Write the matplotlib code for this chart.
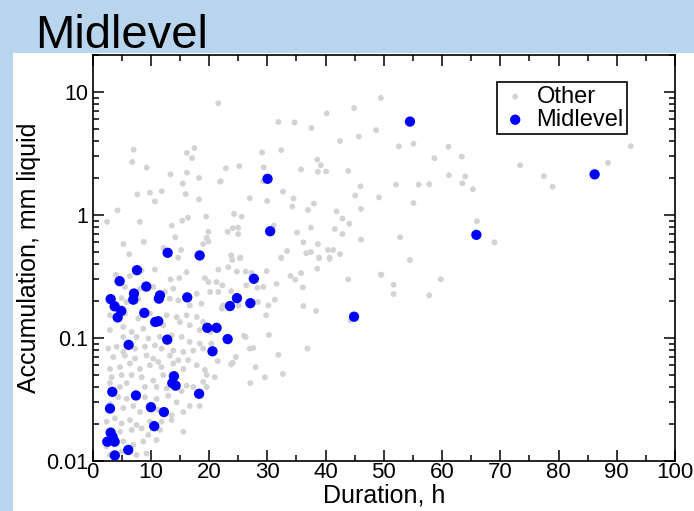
import matplotlib
matplotlib.use("Agg")
import matplotlib.pyplot as plt
from matplotlib.patches import Rectangle
from matplotlib.ticker import FixedLocator, FixedFormatter, LogLocator, NullFormatter, MultipleLocator

plt.rcParams['font.family'] = ['Liberation Sans', 'DejaVu Sans']

# ---------------- data ----------------
other_x = [
    # upper-left region
    21.6, 7.06, 17.5, 16.2, 17.1, 6.83, 9.29, 13.4, 16.2, 18.3, 21.9, 15.5, 7.7, 9.86, 11.9, 16.0,
    10.7, 18.3, 4.3, 2.5, 8.1, 15.4, 16.4, 19.5, 13.6, 19.9, 14.2, 19.6, 19.0, 5.3, 8.8, 19.9,
    12.2, 15.2, 6.3, 14.7,
    # dense lower-left region
    4.03, 6.43, 8.43, 10.72, 13.4, 14.9, 16.15, 19.3, 19.9, 21.3,
    5.57, 8.15, 10.43, 12.43, 13.86, 17.9, 20.2, 21.6,
    5.0, 5.86, 7.86, 13.29, 14.72, 16.7, 18.7,
    3.0, 5.57, 7.86, 9.86, 12.72, 14.44, 16.15, 17.9, 19.0,
    3.0, 5.29, 6.72, 8.72, 12.15, 15.0, 16.7, 18.4, 20.2,
    5.29, 7.57, 9.58, 11.58, 13.58, 15.3, 16.7, 18.4, 20.4,
    2.71, 4.14, 5.29, 7.29, 9.0, 10.72, 11.86, 13.86, 15.6, 17.3, 19.0,
    3.57, 5.57, 7.29, 9.29, 10.43, 11.29, 13.29, 14.72, 16.4, 17.9, 19.3,
    3.0, 4.72, 6.43, 8.15, 9.86, 11.86, 13.86, 15.6, 19.6, 21.0,
    3.29, 5.0, 6.72, 8.43, 10.43, 12.15, 16.15, 17.3, 19.0,
    3.0, 4.72, 5.86, 9.0, 11.0, 12.72, 15.3, 19.6,
    4.43, 5.86, 9.0, 11.0, 13.0, 14.44, 16.7, 18.4,
    3.0, 5.29, 7.0, 8.15, 11.29, 13.58, 15.6,
    2.43, 3.86, 5.0, 6.43, 7.57, 9.86, 11.86, 13.58,
    4.72, 6.72, 8.43, 9.58, 11.58, 15.6,
    2.43, 5.29, 7.0, 8.72, 11.0,
    5.0, 7.57, 9.29, 3.0,
    # upper-middle region
    49.5, 44.9, 40.2, 31.9, 34.7, 37.6, 45.7, 48.7, 42.5, 32.4, 29.1, 38.6, 39.2, 22.9, 25.2, 29.4,
    35.8, 38.7, 40.1, 43.9, 22.0, 29.3, 32.7, 27.0, 30.0, 34.5, 34.3, 38.0, 37.0, 45.1, 49.2, 46.1,
    41.9, 24.3, 25.6, 42.9, 44.1, 23.2, 24.1, 25.0, 25.0, 31.1, 35.1, 37.5, 41.6, 42.9, 46.1, 23.8,
    33.4, 36.2, 38.7, 36.7, 37.5, 40.4, 41.3, 42.5, 25.4, 32.4, 38.9, 40.7, 46.0,
    # lower-middle region
    21.6, 23.3, 24.0, 25.3, 32.4, 38.9, 40.7, 24.8, 26.3, 27.3, 29.9, 22.3, 23.8, 26.4, 28.3, 29.3,
    31.6, 34.0, 34.8, 35.8, 36.1, 38.6, 43.9, 49.5, 22.2, 22.4, 25.1, 28.4, 30.2, 31.3, 36.2, 38.4,
    29.8, 26.0, 26.3, 30.3, 27.6, 27.0, 31.9, 36.9, 44.3, 21.5, 24.6, 23.8, 24.1, 28.0, 32.7, 29.6,
    27.1,
    # right region
    52.6, 55.1, 61.1, 58.7, 63.4, 61.2, 64.0, 63.5, 65.3, 52.1, 56.0, 57.8, 55.1, 73.4, 77.5, 79.0,
    88.5, 92.4, 66.0, 69.0, 52.8, 54.5, 49.6, 51.7, 51.7, 57.8, 59.8,
]
other_y = [
    8.1, 3.4, 3.5, 3.2, 2.9, 2.7, 2.43, 2.14, 2.21, 2.0, 1.87, 1.80, 1.47, 1.52, 1.56, 1.48,
    1.29, 1.34, 1.09, 0.88, 0.88, 0.90, 0.95, 0.97, 0.82, 0.73, 0.66, 0.65, 0.58, 0.58, 0.605, 0.61,
    0.54, 0.52, 0.48, 0.45,
    0.327, 0.319, 0.354, 0.36, 0.299, 0.307, 0.343, 0.307, 0.285, 0.285,
    0.26, 0.252, 0.26, 0.237, 0.252, 0.229, 0.237, 0.237,
    0.211, 0.196, 0.209, 0.209, 0.202, 0.184, 0.19,
    0.153, 0.158, 0.144, 0.158, 0.153, 0.148, 0.153, 0.148, 0.135,
    0.116, 0.123, 0.112, 0.119, 0.127, 0.135, 0.127, 0.116, 0.112,
    0.102, 0.102, 0.099, 0.102, 0.105, 0.102, 0.093, 0.090, 0.090,
    0.082, 0.085, 0.077, 0.082, 0.085, 0.087, 0.082, 0.079, 0.077, 0.079, 0.082,
    0.070, 0.072, 0.068, 0.072, 0.068, 0.064, 0.072, 0.066, 0.066, 0.060, 0.055,
    0.056, 0.058, 0.062, 0.056, 0.060, 0.058, 0.062, 0.056, 0.050, 0.048,
    0.048, 0.050, 0.050, 0.048, 0.045, 0.050, 0.041, 0.040, 0.044,
    0.043, 0.040, 0.043, 0.040, 0.040, 0.039, 0.037, 0.040,
    0.033, 0.032, 0.033, 0.032, 0.034, 0.030, 0.028, 0.028,
    0.029, 0.027, 0.028, 0.025, 0.026, 0.0236, 0.025,
    0.0209, 0.0222, 0.0202, 0.0215, 0.0196, 0.0209, 0.0209, 0.0215,
    0.0173, 0.0179, 0.0184, 0.0163, 0.0179, 0.0173,
    0.0131, 0.0144, 0.0135, 0.0144, 0.0148,
    0.0119, 0.0112, 0.0115, 0.0112,
    8.95, 7.4, 6.7, 5.7, 5.65, 5.1, 4.35, 4.9, 4.0, 3.37, 3.23, 2.82, 2.54, 2.4, 2.5, 2.44,
    2.35, 2.25, 2.26, 2.28, 1.88, 1.88, 1.55, 1.37, 1.3, 1.36, 1.17, 1.24, 1.1, 1.44, 1.39, 1.12,
    1.07, 1.02, 0.97, 0.935, 0.85, 0.73, 0.78, 0.79, 0.70, 0.82, 0.72, 0.79, 0.77, 0.70, 0.63, 0.47,
    0.51, 0.60, 0.58, 0.49, 0.50, 0.52, 0.52, 0.48, 0.45, 0.45, 0.45, 0.45, 1.71,
    0.36, 0.377, 0.43, 0.446, 0.446, 0.446, 0.44, 0.347, 0.347, 0.339, 0.35, 0.268, 0.24, 0.268, 0.256, 0.26,
    0.276, 0.319, 0.298, 0.337, 0.258, 0.366, 0.299, 0.327, 0.173, 0.184, 0.184, 0.196, 0.184, 0.205, 0.182, 0.166,
    0.153, 0.104, 0.102, 0.106, 0.083, 0.082, 0.073, 0.082, 0.139, 0.065, 0.070, 0.061, 0.063, 0.058, 0.051, 0.048,
    0.043,
    3.61, 3.8, 3.59, 2.9, 2.98, 2.11, 2.06, 1.81, 1.62, 1.77, 1.77, 1.78, 1.25, 2.54, 2.07, 1.70,
    2.65, 3.63, 0.89, 0.60, 0.66, 0.43, 0.327, 0.271, 0.228, 0.222, 0.30,
]

mid_x = [7.63, 4.66, 9.23, 7.12, 7.0, 3.12, 11.58, 11.4, 16.26, 3.8, 4.94, 4.32, 8.89, 10.77, 11.29,
         19.7, 21.3, 6.2, 12.83, 20.6, 13.98, 13.7, 14.27, 3.4, 7.46, 18.3, 3.0, 10.03, 12.26, 10.6,
         3.12, 3.46, 2.54, 3.8, 6.14, 3.83, 12.9, 18.4, 27.7, 24.8, 23.6, 27.1, 23.2, 44.9, 30.05,
         30.5, 54.5, 86.2, 65.9]
mid_y = [0.356, 0.29, 0.262, 0.23, 0.205, 0.207, 0.222, 0.209, 0.214, 0.181, 0.166, 0.147, 0.160, 0.135, 0.137,
         0.121, 0.121, 0.088, 0.097, 0.078, 0.0489, 0.043, 0.041, 0.0365, 0.0341, 0.0352, 0.0267, 0.0274, 0.0250, 0.0192,
         0.0170, 0.0157, 0.01435, 0.01435, 0.0123, 0.0111, 0.493, 0.469, 0.303, 0.211, 0.182, 0.192, 0.098, 0.149, 1.97,
         0.738, 5.75, 2.14, 0.69]

x_ticks = [0, 10, 20, 30, 40, 50, 60, 70, 80, 90, 100]
y_ticks = [0.01, 0.1, 1, 10]
y_tick_labels = ['0.01', '0.1', '1', '10']

# ---------------- figure ----------------
W, H = 694, 511
fig = plt.figure(figsize=(W / 100, H / 100), dpi=100)
fig.patch.set_facecolor('#b9d5ee')
fig.add_artist(Rectangle((13 / W, 0), 1 - 13 / W, 1 - 53 / H, transform=fig.transFigure,
                         facecolor='white', edgecolor='none', zorder=0))

ax = fig.add_axes([92.5 / W, 50 / H, 582.5 / W, 406 / H])
ax.set_facecolor('white')
ax.scatter(other_x, other_y, s=18, color='#d3d3d3', edgecolors='none', label='Other', zorder=2)
ax.scatter(mid_x, mid_y, s=55, color='#0000ff', edgecolors='none', label='Midlevel', zorder=3)

ax.set_yscale('log')
ax.set_xlim(0, 100)
ax.set_ylim(0.01, 20)
ax.xaxis.set_major_locator(FixedLocator(x_ticks))
ax.xaxis.set_minor_locator(MultipleLocator(5))
ax.yaxis.set_major_locator(FixedLocator(y_ticks))
ax.yaxis.set_major_formatter(FixedFormatter(y_tick_labels))
ax.yaxis.set_minor_locator(LogLocator(base=10, subs=range(2, 10)))
ax.yaxis.set_minor_formatter(NullFormatter())

ax.tick_params(which='both', direction='in', top=True, right=True, width=1.1, colors='black')
ax.tick_params(which='major', length=8)
ax.tick_params(which='minor', length=4)
ax.tick_params(axis='x', which='major', labelsize=16, pad=1)
ax.tick_params(axis='y', which='major', labelsize=15.5, pad=3)
for s in ax.spines.values():
    s.set_linewidth(1.2)

ax.set_xlabel('Duration, h', fontsize=18, labelpad=0)
ax.set_ylabel('Accumulation, mm liquid', fontsize=18, labelpad=4)

leg = ax.legend(loc='upper right', bbox_to_anchor=(0.918, 0.933), fontsize=17,
                frameon=True, fancybox=False, edgecolor='black', framealpha=1,
                borderpad=0.15, handletextpad=0.3, labelspacing=0.05, handlelength=1.2,
                borderaxespad=0)
leg.get_frame().set_linewidth(1.2)

fig.text(35 / W, 1 - 48 / H, 'Midlevel', fontsize=34, va='baseline', ha='left')

fig.savefig('out.png', dpi=100, facecolor=fig.get_facecolor())
